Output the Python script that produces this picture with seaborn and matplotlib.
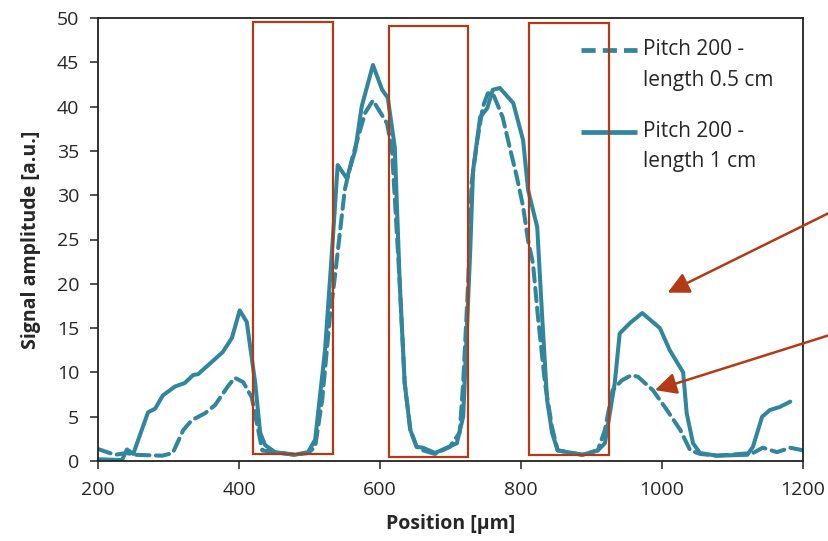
import numpy as np
import pandas as pd
import matplotlib
matplotlib.use("Agg")
import matplotlib.pyplot as plt
import matplotlib.patches as mpatches
import seaborn as sns

# ---- data ----
pos_solid = [200, 234, 241, 250, 271, 281, 292, 309, 323, 335, 342, 356, 377, 390, 401, 411,
             423, 430, 437, 451, 479, 498, 508, 522, 532, 540, 553, 565, 574, 590, 603, 611,
             621, 628, 635, 643, 652, 661, 678, 695, 709, 718, 728, 732, 742, 752, 760, 770,
             789, 803, 810, 823, 830, 837, 844, 852, 887, 909, 919, 933, 940, 955, 972, 997,
             1011, 1030, 1035, 1044, 1054, 1078, 1121, 1129, 1142, 1153, 1167, 1182]
amp_solid = [0.2, 0.1, 1.3, 0.8, 5.5, 5.9, 7.4, 8.4, 8.8, 9.7, 9.8, 10.8, 12.3, 13.9, 17.0, 15.7,
             8.8, 3.2, 1.8, 1.0, 0.7, 1.0, 2.4, 12.5, 23.8, 33.4, 31.9, 35.1, 40.0, 44.7, 41.9, 41.0,
             35.4, 20.1, 8.8, 3.5, 1.6, 1.5, 0.9, 1.5, 2.0, 5.0, 23.8, 32.8, 38.8, 39.8, 41.9, 42.1,
             40.4, 36.2, 30.6, 26.4, 16.3, 6.9, 3.2, 1.2, 0.7, 1.2, 2.0, 8.8, 14.4, 15.6, 16.7, 15.0,
             12.5, 10.0, 5.4, 2.0, 0.9, 0.6, 0.7, 1.6, 5.0, 5.75, 6.1, 6.7]

pos_dash = [200, 224, 241, 252, 291, 306, 321, 333, 352, 366, 384, 394, 406, 418, 433,
            451, 479, 498, 508, 518, 529, 536, 543, 550, 560, 572, 579, 590, 600, 610,
            617, 628, 635, 643, 652, 661, 678, 699, 713, 718, 725, 730, 738, 746, 753, 760,
            774, 784, 794, 803, 810, 817, 824, 834, 844, 852, 887, 909, 919, 930, 943, 957,
            966, 987, 1007, 1026, 1040, 1054, 1078, 1129, 1143, 1163, 1182, 1200]
amp_dash = [1.35, 0.7, 0.9, 0.7, 0.6, 0.9, 3.5, 4.6, 5.4, 6.3, 8.4, 9.4, 8.9, 7.2, 1.2,
            1.0, 0.7, 0.9, 1.6, 6.9, 16.3, 20.8, 25.7, 30.6, 34.0, 37.4, 39.3, 40.7, 39.4, 38.1,
            35.1, 20.1, 8.8, 3.5, 1.6, 1.2, 0.8, 1.6, 3.2, 8.8, 20.1, 31.4, 36.2, 40.0, 41.5, 41.5,
            38.8, 35.4, 32.1, 28.7, 24.9, 22.3, 16.3, 8.8, 3.8, 1.2, 0.7, 1.2, 3.5, 8.0, 9.1, 9.7,
            9.5, 8.0, 5.75, 3.5, 1.2, 0.8, 0.6, 0.9, 1.5, 1.0, 1.5, 1.2]

label_dash = "Pitch 200 -\nlength 0.5 cm"
label_solid = "Pitch 200 -\nlength 1 cm"

# highlighted regions (x0, x1, y0, y1)
box_x0 = [420, 613, 811]
box_x1 = [533, 725, 925]
box_y0 = [0.8, 0.45, 0.7]
box_y1 = [49.5, 49.1, 49.4]

# arrows: head (x, y) and tail (x, y)
arrow_head = [(1008, 19.0), (990, 8.0)]
arrow_tail = [(1237, 28.0), (1237, 14.2)]

x_ticks = [200, 400, 600, 800, 1000, 1200]
y_ticks = [0, 5, 10, 15, 20, 25, 30, 35, 40, 45, 50]

# ---- style ----
sns.set_theme(style="white")
plt.rcParams["font.family"] = ["Open Sans", "DejaVu Sans"]
teal = "#31859C"
red = "#B23A14"
txt = "#262626"

fig = plt.figure(figsize=(8.29, 5.41), dpi=100)
ax = fig.add_axes([98 / 829, 80 / 541, 705 / 829, 443 / 541])

df_s = pd.DataFrame({"pos": pos_solid, "amp": amp_solid})
df_d = pd.DataFrame({"pos": pos_dash, "amp": amp_dash})

sns.lineplot(data=df_d, x="pos", y="amp", ax=ax, color=teal, lw=2.9,
             linestyle=(0, (3.3, 1.6)), dash_capstyle="round", sort=False)
sns.lineplot(data=df_s, x="pos", y="amp", ax=ax, color=teal, lw=2.9, sort=False)

for x0, x1, y0, y1 in zip(box_x0, box_x1, box_y0, box_y1):
    ax.add_patch(mpatches.Rectangle((x0, y0), x1 - x0, y1 - y0, fill=False,
                                    edgecolor=red, lw=1.6, zorder=3))

for (hx, hy), (tx, ty) in zip(arrow_head, arrow_tail):
    ax.annotate("", xy=(hx, hy), xytext=(tx, ty), xycoords="data", textcoords="data",
                annotation_clip=False,
                arrowprops=dict(arrowstyle="-|>,head_length=0.5,head_width=0.25",
                                color=red, lw=1.8, mutation_scale=26,
                                shrinkA=0, shrinkB=0))

ax.set_xlim(200, 1200)
ax.set_ylim(0, 50)
ax.set_xticks(x_ticks)
ax.set_yticks(y_ticks)
ax.tick_params(axis="both", which="major", direction="out", length=5.5, width=1.2,
               colors="#333333", labelcolor=txt, labelsize=14, left=True, bottom=True)
ax.tick_params(axis="x", pad=9)
ax.tick_params(axis="y", pad=8)
for s in ax.spines.values():
    s.set_color("#222222")
    s.set_linewidth(1.3)

ax.set_xlabel("Position [µm]", fontsize=14, fontweight="bold", color=txt, labelpad=11)
ax.set_ylabel("Signal amplitude [a.u.]", fontsize=14, fontweight="bold", color=txt, labelpad=11)

# legend drawn in axes-fraction coordinates (handle aligned with first text line)
leg_styles = [(0, (3.0, 1.5)), "-"]
leg_labels = [label_dash, label_solid]
leg_y = [0.928, 0.743]
for ls, lab, yy in zip(leg_styles, leg_labels, leg_y):
    ax.plot([0.685, 0.765], [yy, yy], transform=ax.transAxes, color=teal, lw=3.4,
            linestyle=ls, dash_capstyle="butt", solid_capstyle="butt", clip_on=False)
    for i, line in enumerate(lab.split("\n")):
        ax.text(0.773, yy - i * 0.068, line, transform=ax.transAxes, fontsize=15,
                color=txt, va="center", ha="left")

fig.savefig("out.png", dpi=100)
